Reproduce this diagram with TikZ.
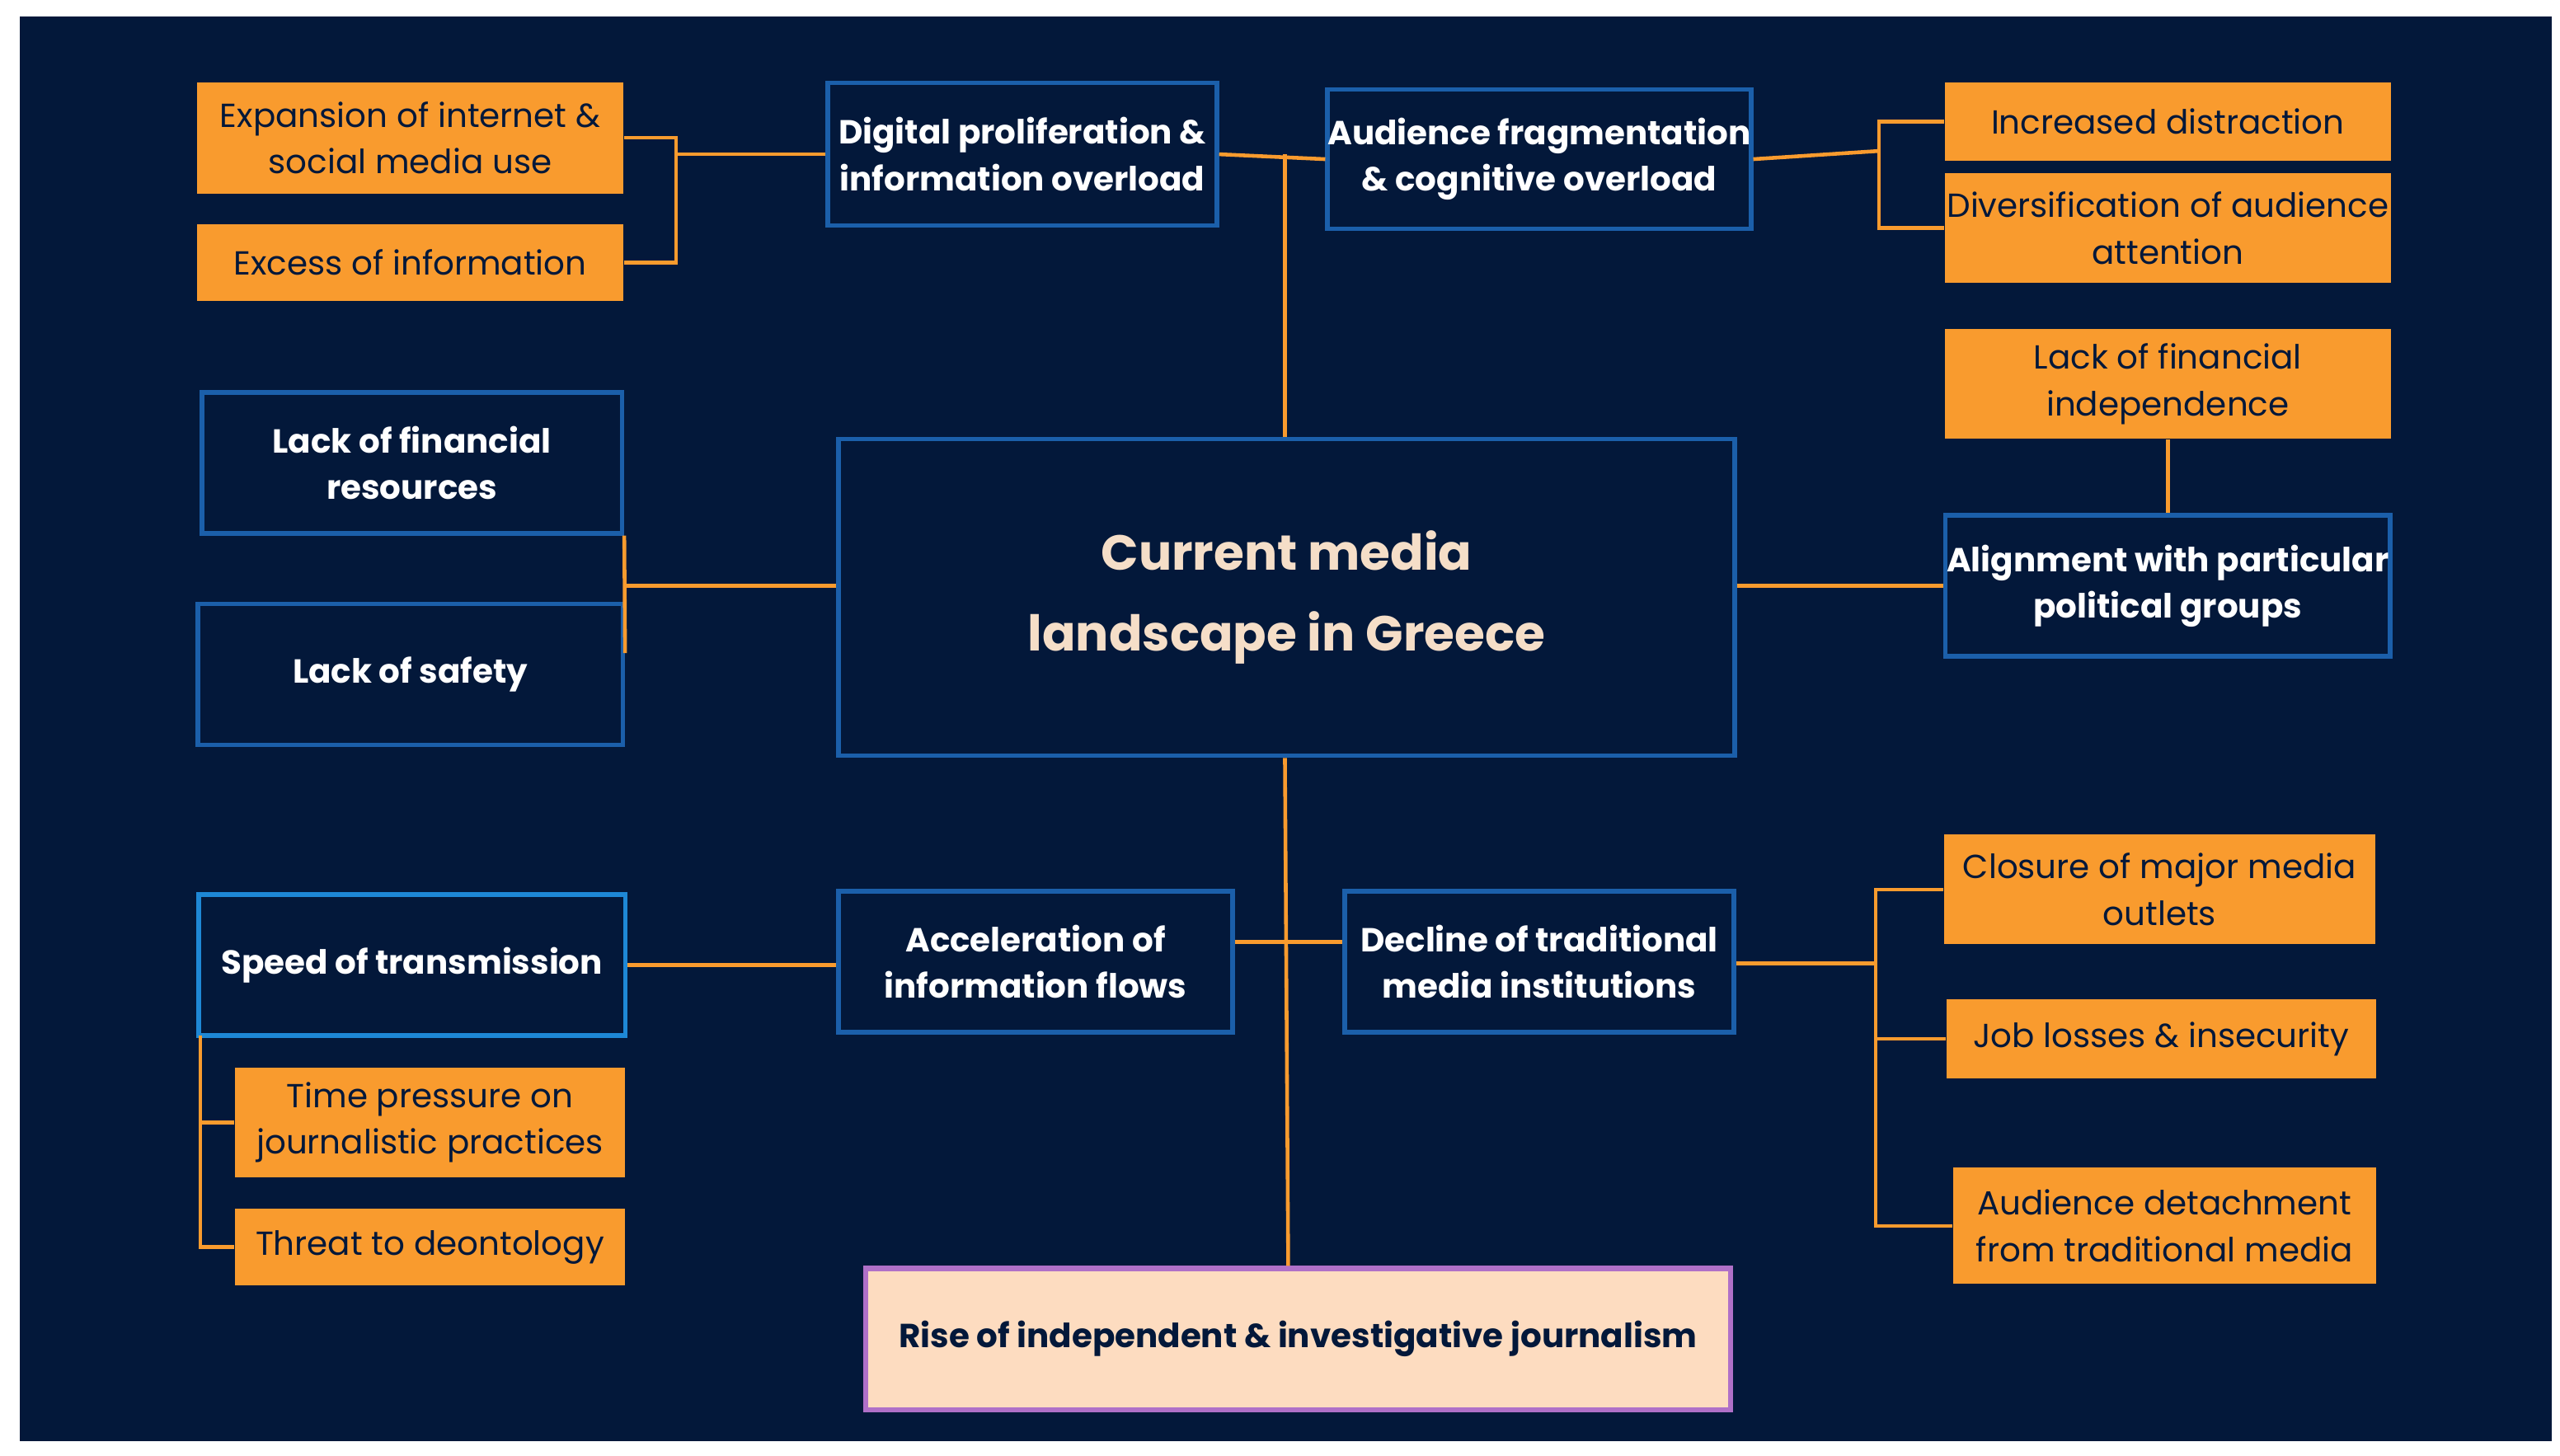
\documentclass[tikz,border=0pt]{standalone}
\usepackage{fontspec}
\setmainfont{Poppins}
\usetikzlibrary{positioning}
\definecolor{navy}{HTML}{03183A}
\definecolor{orng}{HTML}{F99B2E}
\definecolor{bluebd}{HTML}{1B5FAA}
\definecolor{lightbd}{HTML}{1E88D6}
\definecolor{peach}{HTML}{FDDCC0}
\definecolor{purp}{HTML}{B070C8}
\definecolor{cream}{HTML}{F5DEC8}
\begin{document}
\begin{tikzpicture}[x=0.0199cm,y=-0.0199cm,
    font=\fontsize{11.5}{16}\selectfont,
    ob/.style={fill=orng, text=navy, align=center, inner sep=0pt},
    bb/.style={draw=bluebd, line width=1.6pt, text=white, align=center, inner sep=0pt, font=\fontsize{11.5}{16}\selectfont\bfseries},
    wire/.style={draw=orng, line width=1.3pt}]
    % background
    \fill[white] (0,0) rectangle (1560,887);
    \fill[navy] (12,10) rectangle (1555,878);

    % top left
    \node[ob, minimum width=260*0.0199cm, minimum height=68*0.0199cm] (exp) at (250,84) {Expansion of internet \&\\social media use};
    \node[ob, minimum width=260*0.0199cm, minimum height=47*0.0199cm] (exc) at (250,160) {Excess of information};
    \node[bb, minimum width=237*0.0199cm, minimum height=87*0.0199cm] (dig) at (623,94) {Digital proliferation \&\\information  overload};
    \node[bb, minimum width=237*0.0199cm, minimum height=85*0.0199cm] (aud) at (938,97) {Audience fragmentation\\\& cognitive overload};

    % top right
    \node[ob, minimum width=272*0.0199cm, minimum height=48*0.0199cm] (dis) at (1321,74) {Increased distraction};
    \node[ob, minimum width=272*0.0199cm, minimum height=67*0.0199cm] (div) at (1321,139) {Diversification of audience\\attention};
    \node[ob, minimum width=272*0.0199cm, minimum height=67*0.0199cm] (ind) at (1321,234) {Lack of financial\\independence};
    \node[bb, minimum width=271*0.0199cm, minimum height=86*0.0199cm] (ali) at (1321,357) {Alignment with particular\\political groups};

    % centre
    \node[bb, minimum width=546*0.0199cm, minimum height=193*0.0199cm, text=cream,
          font=\fontsize{17}{28}\selectfont\bfseries] (cur) at (784,364) {Current media\\landscape in Greece};

    % left
    \node[bb, minimum width=256*0.0199cm, minimum height=86*0.0199cm] (res) at (251,282) {Lack of financial\\resources};
    \node[bb, minimum width=259*0.0199cm, minimum height=86*0.0199cm] (saf) at (250,411) {Lack of safety};

    % bottom
    \node[bb, draw=lightbd, minimum width=260*0.0199cm, minimum height=86*0.0199cm] (spd) at (251,588) {Speed of transmission};
    \node[ob, minimum width=238*0.0199cm, minimum height=67*0.0199cm] (tim) at (262,684) {Time pressure on\\journalistic practices};
    \node[ob, minimum width=238*0.0199cm, minimum height=47*0.0199cm] (thr) at (262,760) {Threat to deontology};
    \node[bb, minimum width=240*0.0199cm, minimum height=86*0.0199cm] (acc) at (631,586) {Acceleration of\\information flows};
    \node[bb, minimum width=237*0.0199cm, minimum height=86*0.0199cm] (dec) at (938,586) {Decline of traditional\\media institutions};
    \node[ob, minimum width=263*0.0199cm, minimum height=67*0.0199cm] (clo) at (1316,542) {Closure of major media\\outlets};
    \node[ob, minimum width=262*0.0199cm, minimum height=48*0.0199cm] (job) at (1317,633) {Job losses \& insecurity};
    \node[ob, minimum width=258*0.0199cm, minimum height=71*0.0199cm] (det) at (1319,747) {Audience detachment\\from traditional media};
    \node[draw=purp, fill=peach, line width=1.8pt, text=navy, inner sep=0pt,
          minimum width=527*0.0199cm, minimum height=86*0.0199cm, font=\fontsize{11.5}{16}\selectfont\bfseries] (ris) at (791,816) {Rise of independent \& investigative journalism};

    % connectors
    \coordinate (bl) at (412,94);
    \draw[wire] (exp.east) -| (bl) |- (exc.east);
    \draw[wire] (bl) -- (dig.west);
    \draw[wire] (dig.east) -- (aud.west);
    \draw[wire] (cur.north -| 783,0) -- (783,94);
    \coordinate (br) at (1145,92);
    \draw[wire] (aud.east) -- (br);
    \draw[wire] (dis.west) -| (br) |- (div.west);
    \draw[wire] (ind) -- (ali);
    \draw[wire] (cur.east |- ali) -- (ali.west);
    \coordinate (lf) at (381,357);
    \draw[wire] (cur.west |- lf) -- (lf);
    \draw[wire] (res.south east) -- (saf.east |- 0,398);
    \draw[wire] (cur.south -| 783,0) -- (ris.north -| 785,0);
    \draw[wire] (acc.east |- 0,574) -- (dec.west |- 0,574);
    \draw[wire] (spd.east) -- (acc.west |- spd.east);
    \coordinate (sl) at (122,631);
    \draw[wire] (sl) |- (thr.west);
    \draw[wire] (sl |- tim) -- (tim.west);
    \coordinate (dr) at (1143,587);
    \draw[wire] (dec.east |- dr) -- (dr);
    \draw[wire] (clo.west) -| (dr |- det) -- (det.west);
    \draw[wire] (dr |- job) -- (job.west);
\end{tikzpicture}
\end{document}
